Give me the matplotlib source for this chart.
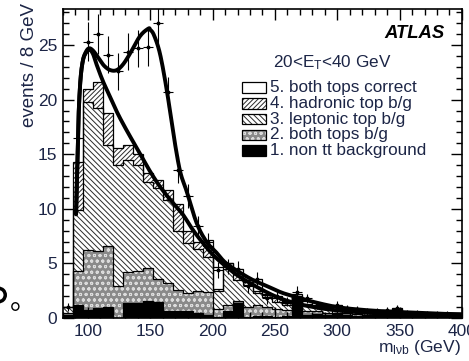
import numpy as np
import matplotlib
matplotlib.use("Agg")
import matplotlib.pyplot as plt
from matplotlib.patches import Rectangle, Wedge
from matplotlib.ticker import MultipleLocator

plt.rcParams['font.family'] = ['Liberation Sans', 'DejaVu Sans']
plt.rcParams['mathtext.fontset'] = 'custom'
plt.rcParams['mathtext.rm'] = 'Liberation Sans'
plt.rcParams['mathtext.it'] = 'Liberation Sans:italic'
plt.rcParams['hatch.linewidth'] = 0.7

# 8 GeV bins from 80 to 400 GeV
edges = np.arange(80, 401, 8)

# stacked contributions per bin (events / 8 GeV)
non_tt = [0.3, 1.2, 0.7, 0.9, 1.0, 0.0, 1.4, 1.4, 1.6, 1.5,
          0.6, 0.6, 0.6, 0.5, 0.3, 0.1, 0.6, 1.4, 0.1, 0.2,
          0.2, 0.1, 0.2, 1.9, 0.3, 0.4, 0.3, 0.5, 0.3, 0.2,
          0.2, 0.2, 0.3, 0.4, 0.2, 0.2, 0.2, 0.2, 0.1, 0.1]
both_bg = [0.2, 3.1, 5.5, 5.2, 5.6, 2.9, 2.8, 2.9, 3.0, 2.1,
           2.6, 2.0, 1.7, 2.0, 2.1, 0.7, 0.6, 0.2, 0.9, 1.0,
           0.8, 0.7, 0.5, 0.0, 0.3, 0.2, 0.2, 0.2, 0.2, 0.2,
           0.1, 0.1, 0.1, 0.1, 0.1, 0.1, 0.1, 0.1, 0.1, 0.1]
lep_bg = [0.5, 5.6, 13.6, 13.1, 9.2, 11.1, 10.3, 9.7, 7.9, 8.3,
          7.6, 5.4, 4.6, 3.8, 3.2, 1.7, 3.3, 1.9, 2.0, 1.1,
          0.9, 0.7, 0.5, 0.1, 0.5, 0.4, 0.4, 0.3, 0.2, 0.2,
          0.2, 0.2, 0.1, 0.2, 0.1, 0.1, 0.1, 0.0, 0.1, 0.1]
had_bg = [0.0, 4.4, 1.2, 2.4, 3.0, 1.6, 1.3, 1.0, 0.8, 0.7,
          0.9, 2.4, 1.1, 0.7, 1.0, 0.2, 0.5, 0.6, 0.3, 0.2,
          0.2, 0.3, 0.2, 0.0, 0.2, 0.1, 0.1, 0.1, 0.1, 0.1,
          0.1, 0.0, 0.1, 0.1, 0.1, 0.0, 0.0, 0.1, 0.0, 0.0]
correct = [0.0, 0.0, 3.6, 2.3, 4.2, 7.3, 8.2, 10.4, 13.2, 12.2,
           8.5, 4.2, 3.3, 1.6, 0.5, 2.0, 0.0, 0.4, 0.2, 1.1,
           0.1, 0.2, 0.2, 0.2, 0.3, 0.1, 0.1, 0.1, 0.1, 0.1,
           0.1, 0.1, 0.1, 0.1, 0.0, 0.1, 0.1, 0.0, 0.1, 0.0]

# pseudo-data with errors
data = [1.0, 16.5, 25.3, 26.0, 24.1, 22.6, 24.4, 24.7, 24.8, 27.0,
        20.7, 13.6, 11.2, 8.4, 7.0, 4.4, 4.7, 4.5, 2.9, 3.6,
        1.8, 2.0, 1.5, 2.4, 1.8, 1.2, 1.0, 1.2, 0.9, 0.8,
        0.6, 0.6, 0.7, 0.9, 0.5, 0.5, 0.4, 0.4, 0.4, 0.3]
data_err = [0.4, 1.5, 1.8, 1.8, 1.7, 1.7, 1.7, 1.7, 1.7, 1.8,
            1.4, 1.2, 1.1, 0.9, 0.8, 0.7, 0.7, 0.7, 0.6, 0.6,
            0.5, 0.5, 0.4, 0.5, 0.4, 0.4, 0.3, 0.4, 0.3, 0.3,
            0.3, 0.3, 0.3, 0.3, 0.2, 0.2, 0.2, 0.2, 0.2, 0.2]

# fitted curves: signal + background, and background only
fit_total_m = [90.5, 91.5, 92.5, 94, 96, 98.5, 101, 104, 108, 113, 118, 123,
               128, 133.7, 141.7, 148.4, 150, 153, 157.8, 163.2, 168.5, 173.8,
               179.2, 187.2, 195, 203, 210, 220, 232, 244, 256, 268, 280, 300,
               320, 340, 360, 380, 400]
fit_total_y = [9.5, 14.0, 18.5, 21.8, 23.6, 24.4, 24.7, 24.5, 23.9, 23.1, 22.7, 22.7,
               23.2, 24.2, 25.8, 26.5, 26.4, 25.9, 24.2, 20.9, 16.9, 13.5,
               11.6, 8.7, 7.0, 6.0, 5.1, 4.3, 3.5, 2.9, 2.3, 1.9, 1.5, 1.0,
               0.75, 0.6, 0.5, 0.4, 0.35]
fit_bkg_m = [90.5, 91.5, 92.5, 94, 96, 98.5, 101, 104, 107, 112, 118, 124, 131,
             137, 142, 150, 158, 167, 176, 184, 192, 201, 211, 220, 230, 241,
             252, 262, 270, 286, 300, 320, 340, 360, 380, 400]
fit_bkg_y = [9.5, 14.0, 18.5, 21.8, 23.6, 24.3, 24.6, 24.2, 23.2, 21.7, 20.2, 18.7, 17.2,
             16.0, 15.0, 13.4, 12.0, 10.7, 9.5, 8.1, 6.9, 5.7, 4.7, 3.9, 3.2, 2.5,
             1.9, 1.5, 1.25, 0.9, 0.7, 0.5, 0.4, 0.3, 0.25, 0.2]

layer_names = ['5. both tops correct', '4. hadronic top b/g',
               '3. leptonic top b/g', '2. both tops b/g',
               '1. non tt background']
text_color = '#1c2546'


def catmull_rom(xs, ys, n=10):
    """Smooth curve through the given points (Catmull-Rom)."""
    p = np.column_stack([xs, ys]).astype(float)
    p = np.vstack([2 * p[0] - p[1], p, 2 * p[-1] - p[-2]])
    out = []
    t = np.linspace(0, 1, n, endpoint=False)[:, None]
    for i in range(1, len(p) - 2):
        p0, p1, p2, p3 = p[i - 1], p[i], p[i + 1], p[i + 2]
        seg = 0.5 * ((2 * p1) + (-p0 + p2) * t + (2 * p0 - 5 * p1 + 4 * p2 - p3) * t ** 2
                     + (-p0 + 3 * p1 - 3 * p2 + p3) * t ** 3)
        out.append(seg)
    out.append(p[-2][None, :])
    out = np.vstack(out)
    return out[:, 0], out[:, 1]


fig = plt.figure(figsize=(4.69, 3.61), dpi=100)
ax = fig.add_axes([0.1343, 0.1191, 0.8507, 0.8560])

styles = [
    dict(facecolor='black', edgecolor='black', hatch=None),
    dict(facecolor='#8a8a8a', edgecolor='#dcdcdc', hatch='ooo'),
    dict(facecolor='white', edgecolor='#2a2a2a', hatch='\\\\\\\\\\\\'),
    dict(facecolor='white', edgecolor='#2a2a2a', hatch='///////'),
    dict(facecolor='white', edgecolor='white', hatch=None),
]
layers = [non_tt, both_bg, lep_bg, had_bg, correct]

base = np.zeros(len(edges) - 1)
tops = []
for vals, st in zip(layers, styles):
    top = base + np.asarray(vals, dtype=float)
    ax.stairs(top, edges, baseline=base, fill=True, linewidth=0, **st)
    tops.append(top)
    base = top
for top in tops[:4]:
    ax.stairs(top, edges, baseline=None, color='black', linewidth=0.9)
# outline of the signal layer only where it stands clear of the fit curve
ax.stairs(tops[4][14:], edges[14:], baseline=None, color='black', linewidth=0.9)

# fit curves
for mx, my in ((fit_bkg_m, fit_bkg_y), (fit_total_m, fit_total_y)):
    sx, sy = catmull_rom(mx, my)
    ax.plot(sx, sy, color='black', linewidth=2.8, solid_capstyle='round', zorder=5)

centers = 0.5 * (edges[:-1] + edges[1:])
ax.errorbar(centers, data, yerr=data_err, xerr=4, fmt='o', ms=1.8,
            color='black', elinewidth=0.8, capsize=0, zorder=6)

ax.set_xlim(80, 400)
ax.set_ylim(0, 28.3)
ax.xaxis.set_major_locator(MultipleLocator(50))
ax.xaxis.set_minor_locator(MultipleLocator(10))
ax.yaxis.set_major_locator(MultipleLocator(5))
ax.yaxis.set_minor_locator(MultipleLocator(1))
ax.tick_params(which='both', direction='in', top=True, right=True,
               labelsize=12.5, labelcolor=text_color, width=1)
ax.tick_params(which='major', length=8, pad=4)
ax.tick_params(which='minor', length=4)
for s in ax.spines.values():
    s.set_linewidth(1.2)

ax.set_ylabel('events / 8 GeV', loc='top', fontsize=13.5, color=text_color)
ax.yaxis.set_label_coords(-0.062, 1.02)
ax.text(0.998, -0.095, r'm$_{\mathregular{l\nu b}}$ (GeV)', transform=ax.transAxes,
        ha='right', va='center', fontsize=12.5, color=text_color)

ax.text(0.957, 0.906, 'ATLAS', transform=ax.transAxes, ha='right',
        va='baseline', fontsize=13.3, fontweight='bold', fontstyle='italic')

# legend block
ax.text(0.526, 0.825, r'20<E$_{\mathregular{T}}$<40 GeV', transform=ax.transAxes,
        ha='left', va='center', fontsize=12.3, color=text_color)
legend_styles = [styles[4], styles[3], styles[2], styles[1], styles[0]]
row_y = [87.5, 103.3, 119.1, 134.9, 150.7]
for name, st, yc in zip(layer_names, legend_styles, row_y):
    fy = (318 - yc) / 309
    ax.add_patch(Rectangle((0.449, fy - 0.017), 0.060, 0.034, transform=ax.transAxes,
                           facecolor=st['facecolor'], edgecolor=st['edgecolor'],
                           hatch=st['hatch'], linewidth=0, zorder=7))
    ax.add_patch(Rectangle((0.449, fy - 0.017), 0.060, 0.034, transform=ax.transAxes,
                           facecolor='none', edgecolor='black', linewidth=0.9, zorder=8))
    ax.text(0.519, fy, name, transform=ax.transAxes, ha='left', va='center',
            fontsize=12.3, color=text_color, zorder=8)

# fragments of the surrounding page at the left margin
fig.patches.append(Wedge((-1.5, 361 - 295), 8.5, -90, 90, width=3.5,
                         transform=None, facecolor='black', edgecolor='none'))
fig.text(10 / 469, 1 - 309 / 361, '\u3002', fontsize=20,
         family=['Noto Sans CJK SC', 'DejaVu Sans'], ha='left', va='baseline')

fig.savefig('out.png', dpi=100)
